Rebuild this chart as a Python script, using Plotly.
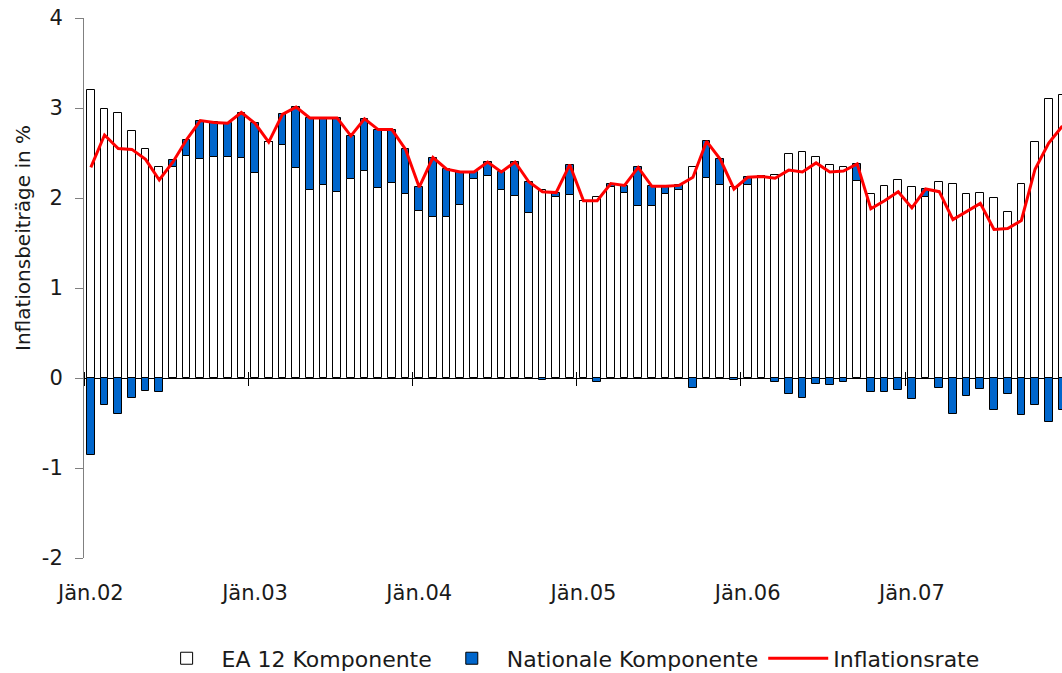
import plotly.graph_objects as go

# Monthly data Jan 2002 - Dec 2007
months = [f"{m:02d}.{y:02d}" for y in range(2, 8) for m in range(1, 13)]

ea12 = [3.20, 2.99, 2.95, 2.75, 2.55, 2.34, 2.34, 2.47, 2.43, 2.46, 2.46, 2.44,
        2.28, 2.62, 2.59, 2.33, 2.09, 2.15, 2.07, 2.21, 2.30, 2.11, 2.17, 2.05,
        1.86, 1.79, 1.79, 1.92, 2.21, 2.24, 2.09, 2.02, 1.83, 2.09, 2.01, 2.03,
        1.97, 2.01, 2.12, 2.06, 1.91, 1.91, 2.04, 2.09, 2.34, 2.22, 2.14, 2.12,
        2.15, 2.24, 2.26, 2.49, 2.51, 2.46, 2.37, 2.34, 2.19, 2.04, 2.13, 2.20,
        2.12, 2.01, 2.18, 2.16, 2.04, 2.06, 2.00, 1.84, 2.16, 2.62, 3.10, 3.15]

national = [-0.86, -0.30, -0.40, -0.22, -0.14, -0.16, 0.08, 0.18, 0.43, 0.38, 0.37, 0.51,
            0.55, 0.00, 0.34, 0.68, 0.80, 0.74, 0.82, 0.48, 0.58, 0.65, 0.59, 0.49,
            0.26, 0.66, 0.53, 0.37, 0.08, 0.16, 0.20, 0.38, 0.35, -0.02, 0.05, 0.34,
            0.00, -0.04, 0.04, 0.07, 0.43, 0.22, 0.09, 0.05, -0.11, 0.41, 0.29, -0.02,
            0.08, 0.00, -0.04, -0.18, -0.22, -0.07, -0.08, -0.04, 0.19, -0.16, -0.16, -0.13,
            -0.23, 0.09, -0.11, -0.40, -0.20, -0.12, -0.35, -0.18, -0.41, -0.30, -0.49, -0.35]

inflation = [2.34, 2.70, 2.55, 2.54, 2.43, 2.20, 2.40, 2.65, 2.86, 2.84, 2.83, 2.95,
             2.83, 2.62, 2.93, 3.01, 2.89, 2.89, 2.89, 2.69, 2.88, 2.76, 2.76, 2.54,
             2.12, 2.45, 2.32, 2.29, 2.29, 2.40, 2.29, 2.40, 2.18, 2.07, 2.06, 2.37,
             1.97, 1.97, 2.16, 2.14, 2.34, 2.13, 2.13, 2.14, 2.23, 2.63, 2.43, 2.10,
             2.23, 2.24, 2.22, 2.31, 2.29, 2.39, 2.29, 2.30, 2.38, 1.88, 1.97, 2.07,
             1.89, 2.10, 2.07, 1.76, 1.85, 1.94, 1.65, 1.66, 1.75, 2.32, 2.61, 2.80]

tick_labels = ["Jän.02", "Jän.03", "Jän.04", "Jän.05", "Jän.06", "Jän.07"]
y_tick_vals = [-2, -1, 0, 1, 2, 3, 4]
y_tick_text = ["-2", "-1", "0", "1", "2", "3", "4"]

x_idx = list(range(len(months)))
label_pos = [i for i in x_idx if i % 12 == 0]
boundary_pos = [i - 0.5 for i in label_pos]

FONT = "DejaVu Sans"
TXT = "#1a1a1a"
xr = [-0.5, 70.97]
yr = [-2, 4]
plot_h = 673 - 18 - 115

fig = go.Figure()
fig.add_trace(go.Bar(
    x=x_idx, y=ea12, name="EA 12 Komponente", width=0.56,
    marker=dict(color="white", line=dict(color="#000000", width=1)),
))
fig.add_trace(go.Bar(
    x=x_idx, y=national, name="Nationale Komponente", width=0.56,
    marker=dict(color="#0066CC", line=dict(color="#000000", width=1)),
))
fig.add_trace(go.Scatter(
    x=x_idx, y=inflation, name="Inflationsrate", mode="lines",
    line=dict(color="#FF0000", width=3), xaxis="x2",
))

zero_frac = (0 - yr[0]) / (yr[1] - yr[0])

fig.update_layout(
    width=1062, height=673,
    margin=dict(l=84, r=0, t=18, b=115, autoexpand=False),
    paper_bgcolor="white", plot_bgcolor="white",
    barmode="relative", bargap=0,
    font=dict(family=FONT, size=21, color=TXT),
    showlegend=True,
    legend=dict(orientation="h", x=0.495, xanchor="center", y=-0.186, yanchor="middle",
                font=dict(size=22, family=FONT, color=TXT), traceorder="normal",
                itemwidth=60),
    xaxis=dict(range=xr, tickmode="array", tickvals=label_pos, ticktext=tick_labels,
               ticks="", showline=False, showgrid=False, zeroline=False, automargin=False,
               ticklabelstandoff=20, tickfont=dict(size=21)),
    xaxis2=dict(range=xr, overlaying="x", anchor="free",
                position=zero_frac + 7 / plot_h, side="bottom",
                tickmode="array", tickvals=boundary_pos, ticks="outside", ticklen=14,
                tickcolor="#000000", tickwidth=1, showticklabels=False, automargin=False,
                showline=False, showgrid=False, zeroline=False),
    yaxis=dict(range=yr, tickmode="array", tickvals=y_tick_vals, ticktext=y_tick_text,
               ticks="outside", ticklen=8, tickcolor="#808080", automargin=False,
               showline=True, linecolor="#808080", linewidth=1, showgrid=False,
               zeroline=True, zerolinecolor="#000000", zerolinewidth=1,
               ticklabelstandoff=8, tickfont=dict(size=21)),
)

fig.add_annotation(
    text="Inflationsbeiträge in %", textangle=-90, showarrow=False,
    xref="paper", yref="paper", x=-61 / 978, xanchor="center",
    y=1 - (238 - 18) / plot_h, yanchor="middle",
    font=dict(size=20, family=FONT, color=TXT),
)

fig.write_html(
    "out.html",
    config={"displayModeBar": False},
    post_script="document.body.style.margin='0';document.body.style.overflow='hidden';",
)
